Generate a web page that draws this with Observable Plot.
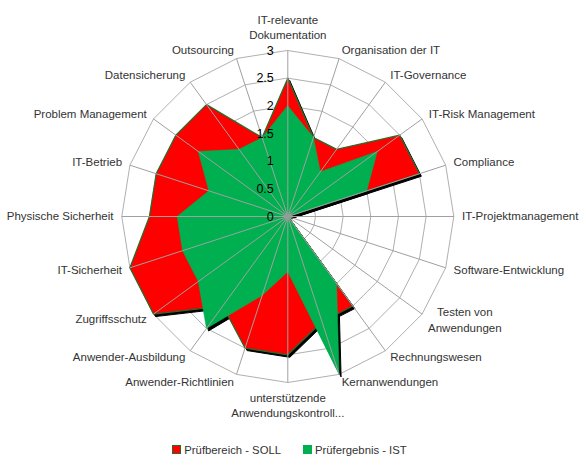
<!DOCTYPE html>
<html>
<head>
<meta charset="utf-8">
<script src="https://cdn.jsdelivr.net/npm/d3@7"></script>
<script src="https://cdn.jsdelivr.net/npm/@observablehq/plot@0.6"></script>
<style>
  html, body { margin: 0; padding: 0; background: #fff; }
  #chart { width: 579px; }
  .legend { display: flex; justify-content: center; align-items: center; gap: 22px; height: 19px;
            font: 11.3px "Liberation Sans", Arial, sans-serif; color: #333; }
  .legend span { display: inline-flex; align-items: center; }
  .legend i { display: inline-block; width: 7px; height: 7px; margin-right: 3px; box-sizing: content-box; }
</style>
</head>
<body>
<div id="chart"></div>
<script>
const categories = [
  "IT-relevante\nDokumentation",
  "Organisation der IT",
  "IT-Governance",
  "IT-Risk Management",
  "Compliance",
  "IT-Projektmanagement",
  "Software-Entwicklung",
  "Testen von\nAnwendungen",
  "Rechnungswesen",
  "Kernanwendungen",
  "unterstützende\nAnwendungskontroll...",
  "Anwender-Richtlinien",
  "Anwender-Ausbildung",
  "Zugriffsschutz",
  "IT-Sicherheit",
  "Physische Sicherheit",
  "IT-Betrieb",
  "Problem Management",
  "Datensicherung",
  "Outsourcing"
];
const sollValues = [2.5, 1.5, 1.5, 2.5, 2.5, 0, 0, 0, 2.0, 2.0, 2.5, 2.5, 2.0, 3.0, 3.0, 2.5, 2.5, 2.5, 2.5, 1.5];
const istValues  = [2.0, 1.5, 1.0, 2.0, 1.5, 0, 0, 0, 1.5, 3.0, 1.0, 1.5, 2.5, 2.0, 2.0, 2.0, 1.5, 2.0, 1.5, 1.5];
const tickValues = [0, 0.5, 1, 1.5, 2, 2.5, 3];
const tickLabels = ["0", "0.5", "1", "1.5", "2", "2.5", "3"];
const seriesNames = ["Prüfbereich - SOLL", "Prüfergebnis - IST"];

const N = categories.length;
const maxV = d3.max(tickValues);
const ang = i => (i / N) * 2 * Math.PI;
const pts = (vals) => vals.map((v, i) => ({cat: categories[i], x: v * Math.sin(ang(i)), y: v * Math.cos(ang(i))}));

const soll = pts(sollValues);
const ist = pts(istValues);
const rings = tickValues.filter(t => t > 0).flatMap(t => categories.map((c, i) => ({level: t, x: t * Math.sin(ang(i)), y: t * Math.cos(ang(i))})));
const spokes = categories.map((c, i) => ({x2: maxV * Math.sin(ang(i)), y2: maxV * Math.cos(ang(i))}));
const labR = maxV * 1.05;
const labels = categories.map((c, i) => ({label: c, i, s: Math.sin(ang(i)), x: labR * Math.sin(ang(i)), y: labR * Math.cos(ang(i))}));
const ticks = tickValues.map((t, k) => ({t, label: tickLabels[k]}));

const font = "Liberation Sans, Arial, sans-serif";
const txt = "#333";
const fs = 11.5;

const plot = Plot.plot({
  width: 579,
  height: 440,
  margin: 0,
  style: {fontFamily: font, background: "#fff"},
  x: {domain: [-maxV, maxV], range: [121.3, 453.3]},
  y: {domain: [-maxV, maxV], range: [382, 50]},
  axis: null,
  marks: [
    Plot.line(rings, {x: "x", y: "y", z: "level", curve: "linear-closed", stroke: "#b0b0b0", strokeWidth: 1}),
    Plot.line(soll, {x: "x", y: "y", curve: "linear-closed", fill: "#000", stroke: "#000", strokeWidth: 1, dx: 2, dy: 2.5}),
    Plot.line(ist, {x: "x", y: "y", curve: "linear-closed", fill: "#000", stroke: "#000", strokeWidth: 1, dx: 2, dy: 2.5}),
    Plot.line(soll, {x: "x", y: "y", curve: "linear-closed", fill: "#ff0000", stroke: "#2b6a2b", strokeWidth: 1.3}),
    Plot.line(ist, {x: "x", y: "y", curve: "linear-closed", fill: "#00b050", stroke: "#00b050", strokeWidth: 0.5}),
    Plot.link(spokes, {x1: 0, y1: 0, x2: "x2", y2: "y2", stroke: "#a0a0a0", strokeWidth: 1}),
    Plot.dot([0], {x: 0, y: 0, r: 2.5, fill: "#999", stroke: "none"}),
    Plot.text(ticks, {x: 0, y: "t", text: "label", textAnchor: "end", dx: -14, fontSize: 12.5, fill: "#000", fontFamily: font}),
    Plot.text(labels.filter(d => d.s > 0.1 && d.i !== 7), {x: "x", y: "y", text: "label", textAnchor: "start", fontSize: fs, fill: txt, fontFamily: font}),
    Plot.text(labels.filter(d => d.s < -0.1), {x: "x", y: "y", text: "label", textAnchor: "end", fontSize: fs, fill: txt, fontFamily: font}),
    Plot.text(labels.filter(d => d.i === 7), {x: "x", y: "y", text: "label", textAnchor: "middle", dx: 36, fontSize: fs, lineHeight: 1.35, fill: txt, fontFamily: font}),
    Plot.text(labels.filter(d => d.i === 0), {x: "x", y: "y", text: "label", textAnchor: "middle", lineAnchor: "bottom", dy: -3, fontSize: fs, lineHeight: 1.35, fill: txt, fontFamily: font}),
    Plot.text(labels.filter(d => d.i === 10), {x: "x", y: "y", text: "label", textAnchor: "middle", lineAnchor: "top", fontSize: fs, lineHeight: 1.35, fill: txt, fontFamily: font})
  ]
});
document.getElementById("chart").appendChild(plot);

const legend = document.createElement("div");
legend.className = "legend";
const colors = [["#ff0000", "#2b6a2b"], ["#00b050", "#00b050"]];
seriesNames.forEach((n, k) => {
  const s = document.createElement("span");
  const i = document.createElement("i");
  i.style.background = colors[k][0];
  i.style.border = "1px solid " + colors[k][1];
  s.appendChild(i);
  s.appendChild(document.createTextNode(n));
  legend.appendChild(s);
});
document.getElementById("chart").appendChild(legend);
</script>
</body>
</html>
